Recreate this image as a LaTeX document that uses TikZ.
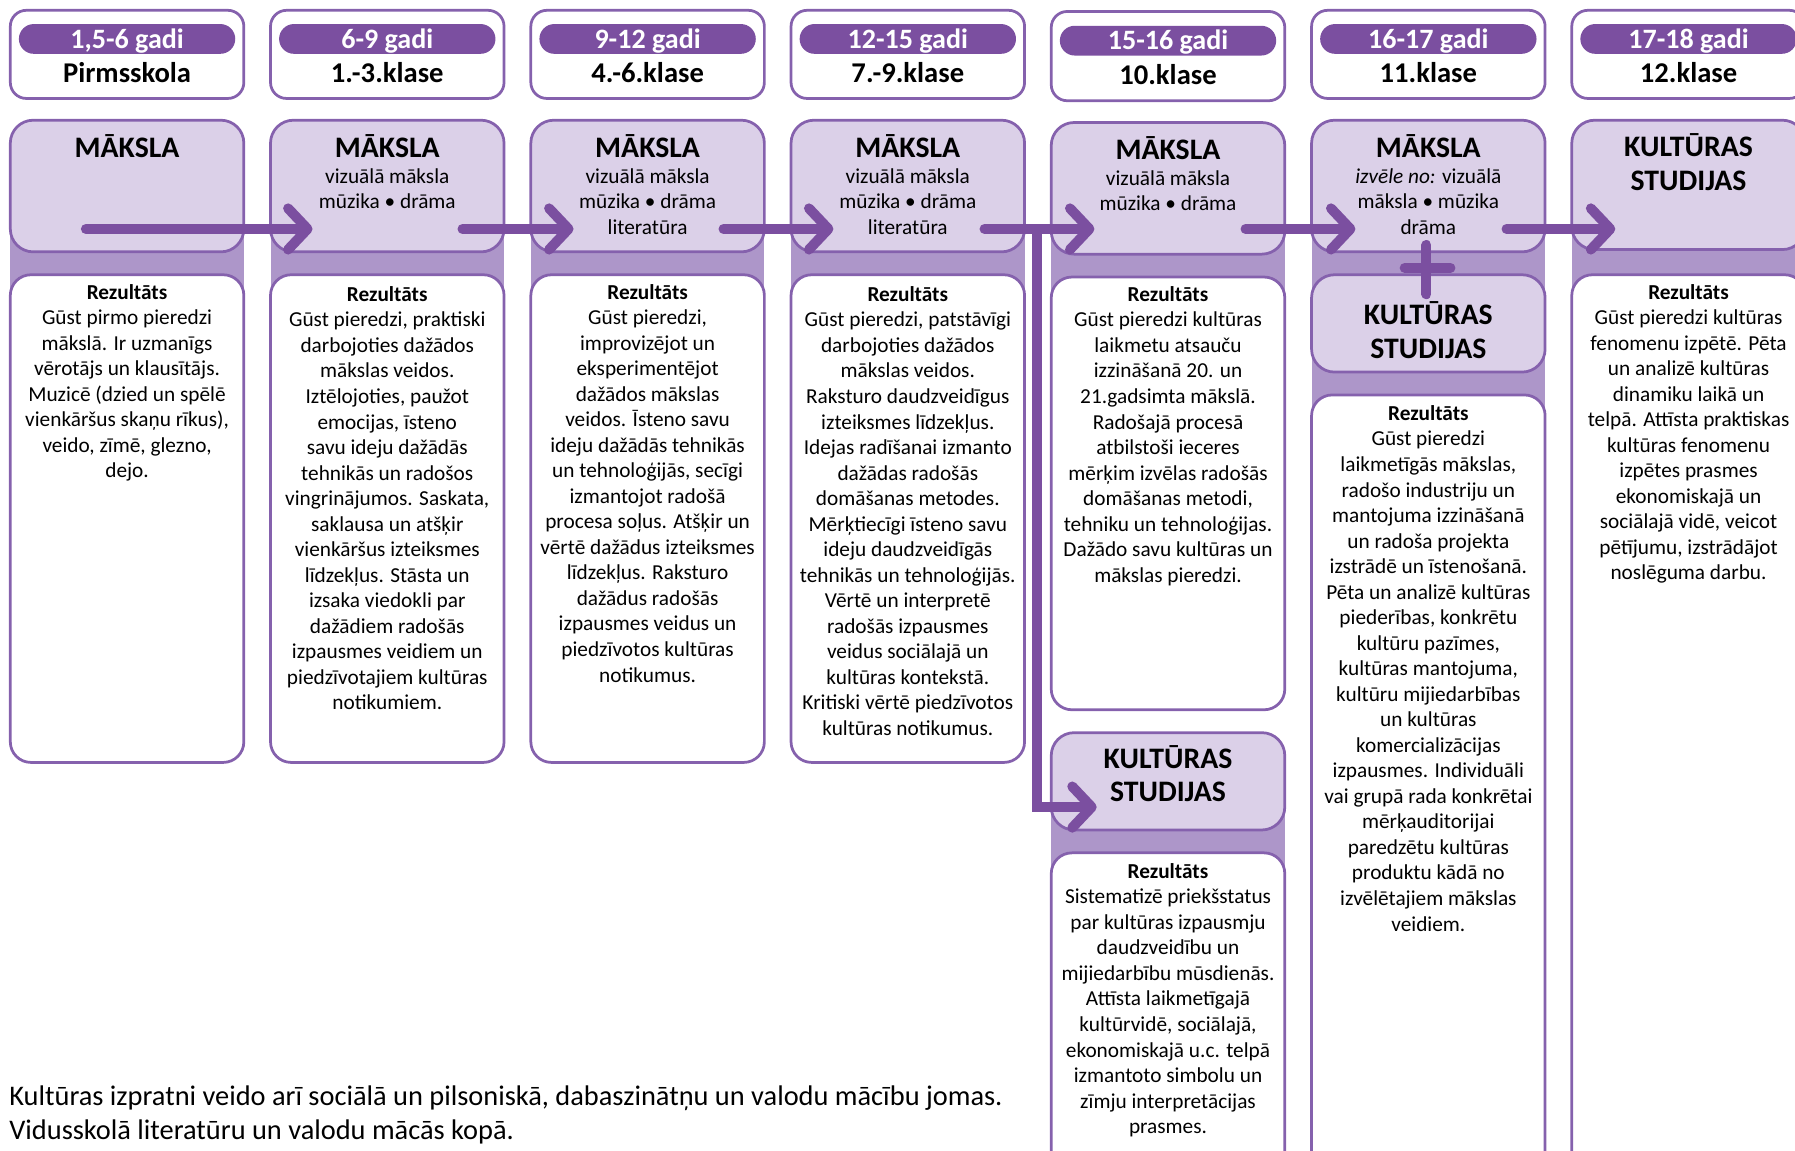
\documentclass[tikz,border=0pt]{standalone}
\usepackage{fontspec}
\setmainfont{Carlito}
\usetikzlibrary{arrows.meta}
\definecolor{pdark}{HTML}{7B4FA0}
\definecolor{pborder}{HTML}{8561AD}
\definecolor{plight}{HTML}{DBD0E8}
\definecolor{pmid}{HTML}{AD96C9}
\begin{document}
\begin{tikzpicture}[x=1pt,y=-1pt,
  hdrbox/.style={draw=pborder, line width=2.4pt, fill=white, rounded corners=14pt, minimum width=204pt, minimum height=77pt, inner sep=0pt},
  pill/.style={fill=pdark, rounded corners=13pt, minimum width=189pt, minimum height=26pt, inner sep=0pt},
  agetxt/.style={text=white, font=\bfseries\fontsize{24.5}{28}\selectfont, anchor=base, inner sep=0pt},
  gradetxt/.style={font=\bfseries\fontsize{25}{28}\selectfont, anchor=base, inner sep=0pt},
  artbox/.style={draw=pborder, line width=2.4pt, fill=plight, rounded corners=20pt, minimum width=204pt, inner sep=0pt},
  resbox/.style={draw=pborder, line width=2.4pt, fill=white, rounded corners=18pt, minimum width=204pt, inner sep=0pt},
  ttl/.style={font=\bfseries\fontsize{26}{30}\selectfont, anchor=base, inner sep=0pt},
  subtxt/.style={font=\fontsize{18.6}{22.2}\selectfont, align=center, anchor=north, inner sep=0pt},
  bodytxt/.style={font=\fontsize{18.6}{22.3}\selectfont, align=center, anchor=north, inner sep=0pt},
  notetxt/.style={font=\fontsize{24.8}{29}\selectfont, anchor=base west, inner sep=0pt},
  flow/.style={draw=pdark, line width=8.7pt, line cap=round, -{Straight Barb[length=17pt, width=36pt, round]}},
  plusln/.style={draw=pdark, line width=8.7pt, line cap=round}
]
\useasboundingbox (0,0) rectangle (1568,1005);
\clip (0,0) rectangle (1568,1005);

% background bands
\fill[pmid] (9,160) rectangle (213,575);
\fill[pmid] (236.3,160) rectangle (440.3,575);
\fill[pmid] (463.7,160) rectangle (667.7,575);
\fill[pmid] (691,160) rectangle (895,575);
\fill[pmid] (918.3,160) rectangle (1122.3,575);
\fill[pmid] (918.3,680) rectangle (1122.3,1010);
\fill[pmid] (1145.7,160) rectangle (1349.7,1010);
\fill[pmid] (1373,160) rectangle (1577,1010);

% header boxes
\node[hdrbox] (h1) at (111,47.5) {};
\node[hdrbox] (h2) at (338.3,47.5) {};
\node[hdrbox] (h3) at (565.7,47.5) {};
\node[hdrbox] (h4) at (793,47.5) {};
\node[hdrbox, minimum height=78pt] (h5) at (1020.3,49) {};
\node[hdrbox] (h6) at (1247.7,47.5) {};
\node[hdrbox] (h7) at (1475,47.5) {};
\node[pill] (p1) at (111,34) {};
\node[pill] (p2) at (338.3,34) {};
\node[pill] (p3) at (565.7,34) {};
\node[pill] (p4) at (793,34) {};
\node[pill] (p5) at (1020.3,35.5) {};
\node[pill] (p6) at (1247.7,34) {};
\node[pill] (p7) at (1475,34) {};
\node[agetxt] (a1) at (111,42) {1,5-6 gadi};
\node[agetxt] (a2) at (338.3,42) {6-9 gadi};
\node[agetxt] (a3) at (565.7,42) {9-12 gadi};
\node[agetxt] (a4) at (793,42) {12-15 gadi};
\node[agetxt] (a5) at (1020.3,43.5) {15-16 gadi};
\node[agetxt] (a6) at (1247.7,42) {16-17 gadi};
\node[agetxt] (a7) at (1475,42) {17-18 gadi};
\node[gradetxt] (g1) at (111,72) {Pirmsskola};
\node[gradetxt] (g2) at (338.3,72) {1.-3.klase};
\node[gradetxt] (g3) at (565.7,72) {4.-6.klase};
\node[gradetxt] (g4) at (793,72) {7.-9.klase};
\node[gradetxt] (g5) at (1020.3,74) {10.klase};
\node[gradetxt] (g6) at (1247.7,72) {11.klase};
\node[gradetxt] (g7) at (1475,72) {12.klase};

% subject boxes
\node[artbox, minimum height=115pt] (m1) at (111,162.5) {};
\node[artbox, minimum height=115pt] (m2) at (338.3,162.5) {};
\node[artbox, minimum height=115pt] (m3) at (565.7,162.5) {};
\node[artbox, minimum height=115pt] (m4) at (793,162.5) {};
\node[artbox, minimum height=115pt] (m5) at (1020.3,164.5) {};
\node[artbox, minimum height=115pt] (m6) at (1247.7,162.5) {};
\node[artbox, minimum height=113pt] (k7) at (1475,161.5) {};
\node[artbox, minimum height=85pt] (k6) at (1247.7,282.5) {};
\node[artbox, minimum height=85pt] (k5) at (1020.3,682.5) {};

% result boxes
\node[resbox, minimum height=426pt] (r1) at (111,453) {};
\node[resbox, minimum height=426pt] (r2) at (338.3,453) {};
\node[resbox, minimum height=426pt] (r3) at (565.7,453) {};
\node[resbox, minimum height=426pt] (r4) at (793,453) {};
\node[resbox, minimum height=378pt] (r5) at (1020.3,431) {};
\node[resbox, minimum height=295pt] (r5b) at (1020.3,892.5) {};
\node[resbox, minimum height=695pt] (r6) at (1247.7,692.5) {};
\node[resbox, minimum height=800pt] (r7) at (1475,640) {};

% subject titles
\node[ttl] (t1) at (111,137.5) {MĀKSLA};
\node[ttl] (t2) at (338.3,137.5) {MĀKSLA};
\node[ttl] (t3) at (565.7,137.5) {MĀKSLA};
\node[ttl] (t4) at (793,137.5) {MĀKSLA};
\node[ttl] (t5) at (1020.3,139.5) {MĀKSLA};
\node[ttl] (t6) at (1247.7,137.5) {MĀKSLA};
\node[ttl] (t7a) at (1475,136.4) {KULTŪRAS};
\node[ttl] (t7b) at (1475,166.4) {STUDIJAS};
\node[ttl] (t6a) at (1247.7,283.4) {KULTŪRAS};
\node[ttl] (t6b) at (1247.7,313.4) {STUDIJAS};
\node[ttl] (t5a) at (1020.3,671.4) {KULTŪRAS};
\node[ttl] (t5b) at (1020.3,700.4) {STUDIJAS};

\node[subtxt] (s2) at (338.3,147) {vizuālā māksla\\mūzika • drāma};
\node[subtxt] (s3) at (565.7,147) {vizuālā māksla\\mūzika • drāma\\literatūra};
\node[subtxt] (s4) at (793,147) {vizuālā māksla\\mūzika • drāma\\literatūra};
\node[subtxt] (s5) at (1020.3,148.5) {vizuālā māksla\\mūzika • drāma};
\node[subtxt] (s6) at (1247.7,147) {\textit{izvēle no:} vizuālā\\māksla • mūzika\\drāma};

% result texts
\node[bodytxt] (b1) at (111,248) {\textbf{Rezultāts}\\Gūst pirmo pieredzi\\mākslā. Ir uzmanīgs\\vērotājs un klausītājs.\\Muzicē (dzied un spēlē\\vienkāršus skaņu rīkus),\\veido, zīmē, glezno,\\dejo.};
\node[bodytxt] (b2) at (338.3,250) {\textbf{Rezultāts}\\Gūst pieredzi, praktiski\\darbojoties dažādos\\mākslas veidos.\\Iztēlojoties, paužot\\emocijas, īsteno\\savu ideju dažādās\\tehnikās un radošos\\vingrinājumos. Saskata,\\saklausa un atšķir\\vienkāršus izteiksmes\\līdzekļus. Stāsta un\\izsaka viedokli par\\dažādiem radošās\\izpausmes veidiem un\\piedzīvotajiem kultūras\\notikumiem.};
\node[bodytxt] (b3) at (565.7,248) {\textbf{Rezultāts}\\Gūst pieredzi,\\improvizējot un\\eksperimentējot\\dažādos mākslas\\veidos. Īsteno savu\\ideju dažādās tehnikās\\un tehnoloģijās, secīgi\\izmantojot radošā\\procesa soļus. Atšķir un\\vērtē dažādus izteiksmes\\līdzekļus. Raksturo\\dažādus radošās\\izpausmes veidus un\\piedzīvotos kultūras\\notikumus.};
\node[bodytxt] (b4) at (793,250) {\textbf{Rezultāts}\\Gūst pieredzi, patstāvīgi\\darbojoties dažādos\\mākslas veidos.\\Raksturo daudzveidīgus\\izteiksmes līdzekļus.\\Idejas radīšanai izmanto\\dažādas radošās\\domāšanas metodes.\\Mērķtiecīgi īsteno savu\\ideju daudzveidīgās\\tehnikās un tehnoloģijās.\\Vērtē un interpretē\\radošās izpausmes\\veidus sociālajā un\\kultūras kontekstā.\\Kritiski vērtē piedzīvotos\\kultūras notikumus.};
\node[bodytxt] (b5) at (1020.3,250) {\textbf{Rezultāts}\\Gūst pieredzi kultūras\\laikmetu atsauču\\izzināšanā 20. un\\21.gadsimta mākslā.\\Radošajā procesā\\atbilstoši ieceres\\mērķim izvēlas radošās\\domāšanas metodi,\\tehniku un tehnoloģijas.\\Dažādo savu kultūras un\\mākslas pieredzi.};
\node[bodytxt] (b5b) at (1020.3,754) {\textbf{Rezultāts}\\Sistematizē priekšstatus\\par kultūras izpausmju\\daudzveidību un\\mijiedarbību mūsdienās.\\Attīsta laikmetīgajā\\kultūrvidē, sociālajā,\\ekonomiskajā u.c. telpā\\izmantoto simbolu un\\zīmju interpretācijas\\prasmes.};
\node[bodytxt] (b6) at (1247.7,354) {\textbf{Rezultāts}\\Gūst pieredzi\\laikmetīgās mākslas,\\radošo industriju un\\mantojuma izzināšanā\\un radoša projekta\\izstrādē un īstenošanā.\\Pēta un analizē kultūras\\piederības, konkrētu\\kultūru pazīmes,\\kultūras mantojuma,\\kultūru mijiedarbības\\un kultūras\\komercializācijas\\izpausmes. Individuāli\\vai grupā rada konkrētai\\mērķauditorijai\\paredzētu kultūras\\produktu kādā no\\izvēlētajiem mākslas\\veidiem.};
\node[bodytxt] (b7) at (1475,248) {\textbf{Rezultāts}\\Gūst pieredzi kultūras\\fenomenu izpētē. Pēta\\un analizē kultūras\\dinamiku laikā un\\telpā. Attīsta praktiskas\\kultūras fenomenu\\izpētes prasmes\\ekonomiskajā un\\sociālajā vidē, veicot\\pētījumu, izstrādājot\\noslēguma darbu.};

% note
\node[notetxt] (n1) at (8,966) {Kultūras izpratni veido arī sociālā un pilsoniskā, dabaszinātņu un valodu mācību jomas.};
\node[notetxt] (n2) at (8,995) {Vidusskolā literatūru un valodu mācās kopā.};

% arrows
\coordinate (e1s) at (75,200);   \coordinate (e1e) at (273,200);
\coordinate (e2s) at (404,200);  \coordinate (e2e) at (501,200);
\coordinate (e3s) at (632,200);  \coordinate (e3e) at (728,200);
\coordinate (e4s) at (860,200);  \coordinate (e4e) at (956,200);
\coordinate (e4b) at (906,200);  \coordinate (e4c) at (906,705); \coordinate (e4d) at (958,705);
\coordinate (e5s) at (1088,200); \coordinate (e5e) at (1184,200);
\coordinate (e6s) at (1316,200); \coordinate (e6e) at (1411,200);
\draw[flow] (e1s) -- (e1e);
\draw[flow] (e2s) -- (e2e);
\draw[flow] (e3s) -- (e3e);
\draw[flow] (e4s) -- (e4e);
\draw[flow, line cap=butt] (e4b) -- (e4c) -- (e4d);
\draw[flow] (e5s) -- (e5e);
\draw[flow] (e6s) -- (e6e);

% plus
\coordinate (pv1) at (1246,214); \coordinate (pv2) at (1246,257);
\coordinate (ph1) at (1227,234); \coordinate (ph2) at (1267,234);
\draw[plusln] (pv1) -- (pv2);
\draw[plusln] (ph1) -- (ph2);
\end{tikzpicture}
\end{document}
